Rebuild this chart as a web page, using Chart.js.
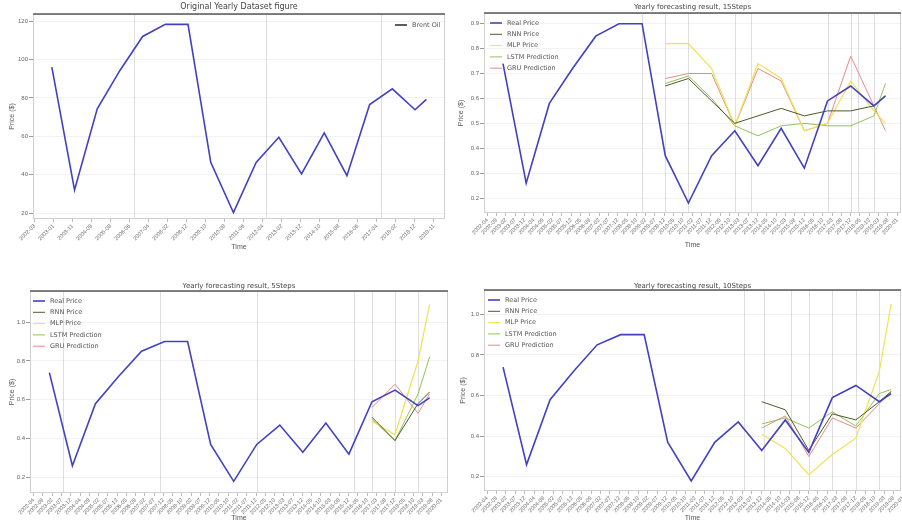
<!DOCTYPE html>
<html>
<head>
<meta charset="utf-8">
<script src="https://cdn.jsdelivr.net/npm/chart.js@4.4.1/dist/chart.umd.min.js"></script>
<style>
    html, body { margin: 0; padding: 0; background: #fff; }
    body { width: 902px; height: 522px; position: relative; overflow: hidden; font-family: "DejaVu Sans", sans-serif; }
    .panel { position: absolute; width: 451px; height: 261px; }
    .panel canvas { display: block; }
</style>
</head>
<body>
<div class="panel" style="left:0;top:0"><canvas id="c1" width="451" height="261"></canvas></div>
<div class="panel" style="left:451px;top:0"><canvas id="c2" width="451" height="261"></canvas></div>
<div class="panel" style="left:0;top:261px"><canvas id="c3" width="451" height="261"></canvas></div>
<div class="panel" style="left:451px;top:261px"><canvas id="c4" width="451" height="261"></canvas></div>
<script>
// Yearly series (x = year)
const years = [2003, 2004, 2005, 2006, 2007, 2008, 2009, 2010, 2011, 2012, 2013, 2014, 2015, 2016, 2017, 2018, 2019, 2019.5];
const brentPrice = [96, 32, 74.3, 94.3, 112, 118.3, 118.3, 46.4, 20.3, 46.4, 59.5, 40.4, 61.8, 39.5, 76.5, 84.7, 73.8, 79.2];
const realScaled = [0.74, 0.26, 0.58, 0.72, 0.85, 0.90, 0.90, 0.37, 0.18, 0.37, 0.47, 0.33, 0.48, 0.32, 0.59, 0.65, 0.57, 0.61];

// 15 steps forecast
const years15 = [2010, 2011, 2012, 2013, 2014, 2015, 2016, 2017, 2018, 2019, 2019.5];
const rnn15 = [0.65, 0.68, 0.59, 0.50, 0.53, 0.56, 0.53, 0.55, 0.55, 0.57, 0.61];
const mlp15 = [0.82, 0.82, 0.72, 0.49, 0.74, 0.68, 0.47, 0.50, 0.67, 0.55, 0.50];
const lstm15 = [0.66, 0.69, 0.60, 0.49, 0.45, 0.49, 0.50, 0.49, 0.49, 0.53, 0.66];
const gru15 = [0.68, 0.70, 0.70, 0.49, 0.72, 0.67, 0.47, 0.50, 0.77, 0.57, 0.47];

// 5 steps forecast
const years5 = [2017, 2018, 2019, 2019.5];
const rnn5 = [0.51, 0.39, 0.58, 0.64];
const mlp5 = [0.49, 0.42, 0.80, 1.09];
const lstm5 = [0.50, 0.39, 0.63, 0.82];
const gru5 = [0.56, 0.68, 0.53, 0.63];

// 10 steps forecast
const years10 = [2014, 2015, 2016, 2017, 2018, 2019, 2019.5];
const rnn10 = [0.57, 0.53, 0.33, 0.51, 0.48, 0.57, 0.62];
const mlp10 = [0.41, 0.34, 0.21, 0.31, 0.39, 0.72, 1.05];
const lstm10 = [0.46, 0.49, 0.44, 0.52, 0.45, 0.61, 0.63];
const gru10 = [0.44, 0.50, 0.30, 0.49, 0.44, 0.56, 0.62];

// Tick labels
const origTicks = ['2002-03', '2003-01', '2003-11', '2004-09', '2005-08', '2006-06', '2007-04', '2008-02',
    '2008-12', '2009-10', '2010-08', '2011-06', '2012-04', '2013-02', '2013-12', '2014-10', '2015-08',
    '2016-06', '2017-04', '2018-02', '2018-12', '2019-11'];
const fcTicks = ['2002-04', '2002-09', '2003-02', '2003-07', '2003-12', '2004-04', '2004-09', '2005-02',
    '2005-07', '2005-12', '2006-05', '2006-09', '2007-02', '2007-07', '2007-12', '2008-05', '2008-10',
    '2009-02', '2009-07', '2009-12', '2010-05', '2010-10', '2011-02', '2011-07', '2011-12', '2012-05',
    '2012-10', '2013-03', '2013-07', '2013-12', '2014-05', '2014-10', '2015-03', '2015-08', '2015-12',
    '2016-05', '2016-10', '2017-03', '2017-08', '2017-12', '2018-05', '2018-10', '2019-03', '2019-08', '2020-01'];

const COLORS = {
    real: '#4141c2',
    rnn: '#4b5a2a',
    mlp: '#f0e250',
    lstm: '#93c25a',
    gru: '#e68a8a'
};

function pts(xs, ys) {
    return xs.map((x, i) => ({ x: x, y: ys[i] }));
}

// Title, legend, border and a few vertical guide lines
const panelDecor = {
    id: 'panelDecor',
    beforeDatasetsDraw(chart, args, opts) {
        const { ctx, chartArea: a, scales } = chart;
        ctx.save();
        ctx.strokeStyle = 'rgba(0,0,0,0.13)';
        ctx.lineWidth = 1;
        (opts.vlines || []).forEach(v => {
            const x = Math.round(scales.x.getPixelForValue(v)) + 0.5;
            ctx.beginPath();
            ctx.moveTo(x, a.top);
            ctx.lineTo(x, a.bottom);
            ctx.stroke();
        });
        ctx.restore();
    },
    afterDraw(chart, args, opts) {
        const { ctx, chartArea: a } = chart;
        ctx.save();
        // frame
        ctx.strokeStyle = '#d0d0d0';
        ctx.lineWidth = 1;
        ctx.strokeRect(a.left + 0.5, a.top + 0.5, a.right - a.left - 1, a.bottom - a.top - 1);
        ctx.strokeStyle = '#5a5a5a';
        ctx.lineWidth = 1.5;
        ctx.beginPath();
        ctx.moveTo(a.left, a.top);
        ctx.lineTo(a.right, a.top);
        ctx.stroke();
        // title
        ctx.fillStyle = '#444';
        ctx.font = opts.titleSize + 'px "DejaVu Sans"';
        ctx.textAlign = 'center';
        ctx.textBaseline = 'middle';
        ctx.fillText(opts.title, (a.left + a.right) / 2, opts.titleY);
        // legend
        ctx.font = '6.5px "DejaVu Sans"';
        ctx.textAlign = 'left';
        opts.legend.forEach((item, i) => {
            const y = opts.legendY + i * opts.legendGap;
            ctx.strokeStyle = item.color;
            ctx.lineWidth = item.width;
            ctx.beginPath();
            ctx.moveTo(opts.legendX, y);
            ctx.lineTo(opts.legendX + 12, y);
            ctx.stroke();
            ctx.fillStyle = '#555';
            ctx.fillText(item.label, opts.legendX + 17, y);
        });
        ctx.restore();
    }
};

function lineSet(label, data, color, width) {
    return {
        label: label,
        data: data,
        borderColor: color,
        backgroundColor: color,
        borderWidth: width,
        pointRadius: 0,
        tension: 0,
        fill: false
    };
}

function makeChart(id, cfg) {
    const tickPos = cfg.tickLabels.map((_, k) => cfg.tickStart + cfg.tickStep * k);
    return new Chart(document.getElementById(id), {
        type: 'line',
        data: { datasets: cfg.datasets },
        plugins: [panelDecor],
        options: {
            responsive: false,
            animation: false,
            layout: { padding: cfg.padding },
            plugins: {
                legend: { display: false },
                tooltip: { enabled: false },
                panelDecor: cfg.decor
            },
            scales: {
                x: {
                    type: 'linear',
                    min: cfg.xMin,
                    max: cfg.xMax,
                    afterBuildTicks: scale => {
                        scale.ticks = tickPos.map(v => ({ value: v }));
                    },
                    afterFit: scale => {
                        scale.height = cfg.xHeight;
                        scale.paddingLeft = 0;
                        scale.paddingRight = 0;
                    },
                    ticks: {
                        autoSkip: false,
                        minRotation: 45,
                        maxRotation: 45,
                        padding: 1,
                        color: '#666',
                        font: { size: 5.5 },
                        callback: (v, i) => cfg.tickLabels[i]
                    },
                    grid: { drawOnChartArea: false, tickLength: 3, color: '#bbb' },
                    border: { display: false },
                    title: {
                        display: true,
                        text: 'Time',
                        color: '#555',
                        font: { size: 7 },
                        padding: { top: 0, bottom: cfg.xTitlePad }
                    }
                },
                y: {
                    min: cfg.yMin,
                    max: cfg.yMax,
                    afterFit: scale => { scale.width = cfg.yWidth; },
                    ticks: {
                        stepSize: cfg.yStep,
                        includeBounds: false,
                        padding: 1,
                        color: '#666',
                        font: { size: 6 },
                        callback: v => cfg.yFmt(v)
                    },
                    grid: { color: 'rgba(0,0,0,0.05)', tickLength: 4, tickColor: '#999' },
                    border: { display: false },
                    title: {
                        display: true,
                        text: 'Price ($)',
                        color: '#555',
                        font: { size: 7 },
                        padding: { top: cfg.yTitlePad, bottom: 0 }
                    }
                }
            }
        }
    });
}

const fcLegend = [
    { label: 'Real Price', color: COLORS.real, width: 1.6 },
    { label: 'RNN Price', color: COLORS.rnn, width: 1 },
    { label: 'MLP Price', color: COLORS.mlp, width: 1 },
    { label: 'LSTM Prediction', color: COLORS.lstm, width: 1 },
    { label: 'GRU Prediction', color: COLORS.gru, width: 1 }
];

function fcSets(xs, rnn, mlp, lstm, gru) {
    return [
        lineSet('Real Price', pts(years, realScaled), COLORS.real, 1.6),
        lineSet('RNN Price', pts(xs, rnn), COLORS.rnn, 1),
        lineSet('MLP Price', pts(xs, mlp), COLORS.mlp, 1.2),
        lineSet('LSTM Prediction', pts(xs, lstm), COLORS.lstm, 1),
        lineSet('GRU Prediction', pts(xs, gru), COLORS.gru, 1)
    ];
}

const fmt0 = v => String(Math.round(v));
const fmt1 = v => v.toFixed(1);

makeChart('c1', {
    datasets: [lineSet('Brent Oil', pts(years, brentPrice), COLORS.real, 1.6)],
    padding: { top: 14, right: 6, left: 0, bottom: 0 },
    xMin: 2002.17, xMax: 2020.32, xHeight: 42, xTitlePad: 10,
    tickLabels: origTicks, tickStart: 2002.235, tickStep: 0.838,
    yMin: 16.9, yMax: 123.7, yStep: 20, yWidth: 33, yTitlePad: 8, yFmt: fmt0,
    decor: {
        title: 'Original Yearly Dataset figure', titleSize: 8, titleY: 7,
        vlines: [2006.6, 2012.45, 2017.5],
        legend: [{ label: 'Brent Oil', color: '#333', width: 1.6 }],
        legendX: 395, legendY: 25, legendGap: 11
    }
});

makeChart('c2', {
    datasets: fcSets(years15, rnn15, mlp15, lstm15, gru15),
    padding: { top: 13, right: 1, left: 0, bottom: 0 },
    xMin: 2002.18, xMax: 2020.17, xHeight: 48, xTitlePad: 12,
    tickLabels: fcTicks, tickStart: 2002.32, tickStep: 0.402,
    yMin: 0.14, yMax: 0.943, yStep: 0.1, yWidth: 33, yTitlePad: 6, yFmt: fmt1,
    decor: {
        title: 'Yearly forecasting result, 15Steps', titleSize: 7, titleY: 7,
        vlines: [2009.0, 2010.0, 2011.0, 2013.0, 2013.7, 2017.0, 2018.0, 2018.3, 2019.0],
        legend: fcLegend, legendX: 39, legendY: 23, legendGap: 11.3
    }
});

makeChart('c3', {
    datasets: fcSets(years5, rnn5, mlp5, lstm5, gru5),
    padding: { top: 30, right: 3, left: 0, bottom: 0 },
    xMin: 2002.16, xMax: 2020.3, xHeight: 29, xTitlePad: 0,
    tickLabels: fcTicks, tickStart: 2002.32, tickStep: 0.402,
    yMin: 0.12, yMax: 1.16, yStep: 0.2, yWidth: 30, yTitlePad: 8, yFmt: fmt1,
    decor: {
        title: 'Yearly forecasting result, 5Steps', titleSize: 7, titleY: 25,
        vlines: [2003.6, 2007.8, 2012.0, 2016.2, 2017.0, 2018.0, 2019.0],
        legend: fcLegend, legendX: 33, legendY: 40, legendGap: 11.3
    }
});

makeChart('c4', {
    datasets: fcSets(years10, rnn10, mlp10, lstm10, gru10),
    padding: { top: 29, right: 1, left: 0, bottom: 0 },
    xMin: 2002.19, xMax: 2019.92, xHeight: 31, xTitlePad: 0,
    tickLabels: fcTicks, tickStart: 2002.32, tickStep: 0.402,
    yMin: 0.13, yMax: 1.12, yStep: 0.2, yWidth: 33, yTitlePad: 8, yFmt: fmt1,
    decor: {
        title: 'Yearly forecasting result, 10Steps', titleSize: 7, titleY: 25,
        vlines: [2013.26, 2014.1, 2015.24, 2016.0, 2017.0, 2018.0, 2019.0],
        legend: fcLegend, legendX: 37, legendY: 39, legendGap: 11.3
    }
});
</script>
</body>
</html>
